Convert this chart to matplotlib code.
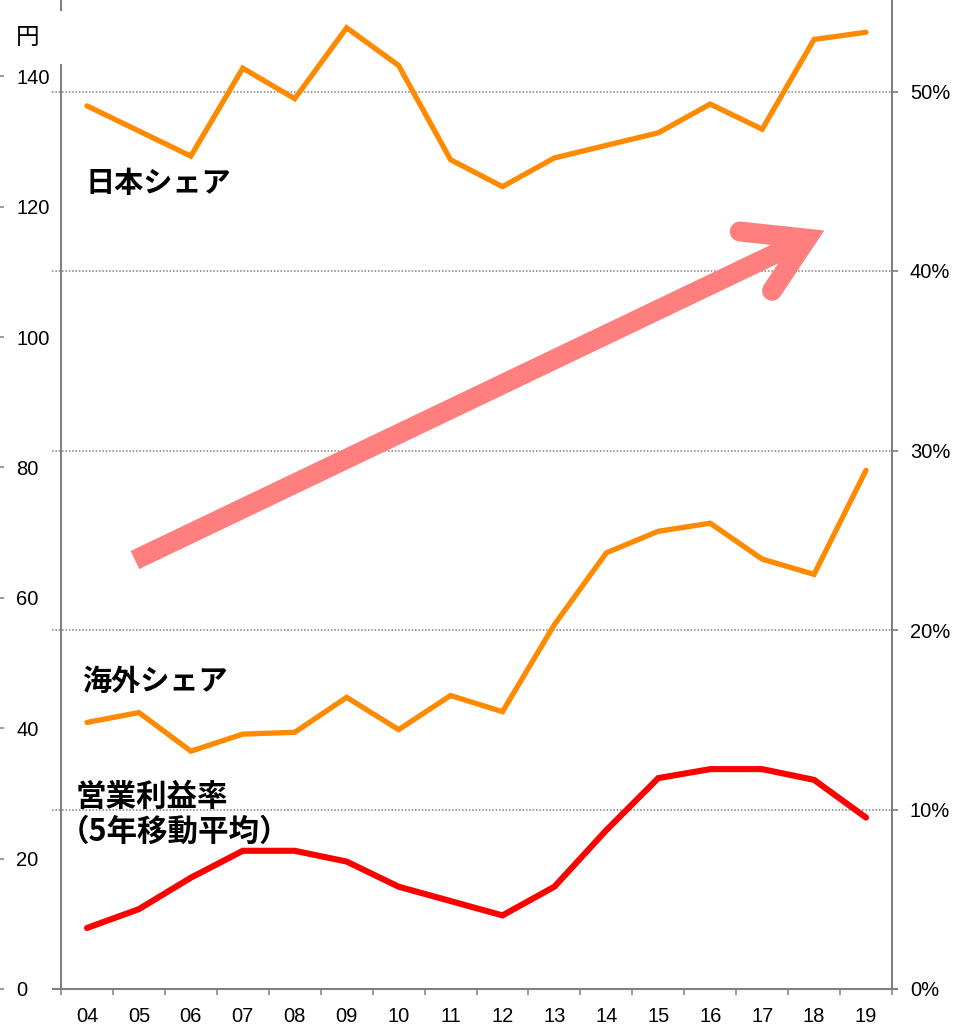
import numpy as np
import matplotlib.pyplot as plt

plt.rcParams['font.family'] = ['Liberation Sans', 'Noto Sans CJK JP']

# data (share / margin in %)
years = ['04', '05', '06', '07', '08', '09', '10', '11',
         '12', '13', '14', '15', '16', '17', '18', '19']
japan_share = [49.2, 47.8, 46.4, 51.3, 49.6, 53.55, 51.45, 46.2,
               44.7, 46.3, 47.0, 47.7, 49.3, 47.9, 52.9, 53.3]
overseas_share = [14.85, 15.4, 13.25, 14.2, 14.3, 16.25, 14.45, 16.35,
                  15.45, 20.3, 24.3, 25.5, 25.95, 23.95, 23.1, 28.9]
op_margin_5y = [3.4, 4.45, 6.2, 7.7, 7.7, 7.1, 5.7, 4.9,
                4.1, 5.7, 8.85, 11.75, 12.25, 12.25, 11.65, 9.55]
yen_ticks = [0, 20, 40, 60, 80, 100, 120, 140]
pct_ticks = [0, 10, 20, 30, 40, 50]

W, H = 961, 1030
GREY = '#808080'
ORANGE = '#FF8A00'
RED = '#FF0000'
PINK = '#FF7F7F'
PX_PCT = 17.95   # pixels per 1 % on the right axis
PX_YEN = 6.519   # pixels per 1 yen on the left axis

fig = plt.figure(figsize=(W / 100, H / 100), dpi=100)
ax = fig.add_axes([61 / W, (H - 989) / H, 831 / W, 988 / H])
x = np.arange(len(years))

ax.set_xlim(-0.5, len(years) - 0.5)
ax.set_ylim(0, 988 / PX_PCT)

# spines
ax.spines['top'].set_visible(False)
ax.spines['bottom'].set_visible(False)
for s in ['left', 'right']:
    ax.spines[s].set_color(GREY)
    ax.spines[s].set_linewidth(1.5)
ax.spines['left'].set_bounds(0, (989 - 65) / PX_PCT)
ax.plot([0, 0], [0.991, 1.0], color=GREY, lw=1.5, transform=ax.transAxes, clip_on=False)

# dotted grid + base line (stick out a bit on both sides)
ytr = ax.get_yaxis_transform()
for v in pct_ticks[1:]:
    ax.plot([-9 / 831, 1 + 6 / 831], [v, v], color=GREY, lw=1.1,
            ls=(0, (1, 1.2)), transform=ytr, clip_on=False, zorder=1)
ax.plot([-9 / 831, 1 + 6 / 831], [0, 0], color=GREY, lw=1.5,
        transform=ytr, clip_on=False, zorder=1, solid_capstyle='butt')

# right axis: percent
ax.yaxis.tick_right()
ax.set_yticks(pct_ticks, [f'{v}%' for v in pct_ticks])
ax.tick_params(axis='y', length=4.3, width=1.1, color=GREY, pad=8.6, labelsize=14.5)

# x axis
ax.set_xticks(x, years)
ax.set_xticks(np.arange(-0.5, len(years)), minor=True)
ax.tick_params(axis='x', which='major', length=0, pad=13, labelsize=14.5)
ax.tick_params(axis='x', which='minor', length=4.5, width=1.1, color=GREY)

# left axis labels (yen), ticks sit at the far left edge
axl = fig.add_axes([0, (H - 989) / H, 0.0005, 988 / H])
axl.set_ylim(0, 988 / PX_YEN)
axl.patch.set_visible(False)
for s in axl.spines.values():
    s.set_visible(False)
axl.set_xticks([])
axl.yaxis.tick_right()
axl.set_yticks(yen_ticks)
axl.tick_params(axis='y', length=2.9, width=1.1, color=GREY, pad=8.6, labelsize=14.5)

# lines
ax.plot(x, japan_share, color=ORANGE, lw=3.8, solid_joinstyle='miter',
        solid_capstyle='round', zorder=3)
ax.plot(x, overseas_share, color=ORANGE, lw=3.8, solid_joinstyle='miter',
        solid_capstyle='round', zorder=3)
ax.plot(x, op_margin_5y, color=RED, lw=4.4, solid_joinstyle='miter',
        solid_capstyle='round', zorder=3)

# trend arrow
ax.plot([0.924, 13.86], [23.9, 41.8], color=PINK, lw=14.4,
        solid_capstyle='butt', zorder=2)
ax.plot([12.57, 13.86, 13.19], [42.2, 41.8, 38.9], color=PINK, lw=14.4,
        solid_joinstyle='miter', solid_capstyle='round', zorder=2)

# labels
jp = ['Noto Sans CJK JP']
fig.text(28 / W, 1 - 37 / H, '円', ha='center', va='center', fontsize=17, family=jp)
fig.text(86 / W, 1 - 183 / H, '日本シェア', ha='left', va='center',
         fontsize=21, fontweight='bold', family=jp)
fig.text(82 / W, 1 - 681 / H, '海外シェア', ha='left', va='center',
         fontsize=21, fontweight='bold', family=jp)
fig.text(76 / W, 1 - 797 / H, '営業利益率', ha='left', va='center',
         fontsize=22, fontweight='bold', family=jp, zorder=5)
fig.text(59 / W, 1 - 832 / H, '（5年移動平均）', ha='left', va='center',
         fontsize=22, fontweight='bold', family=jp, zorder=5)

fig.savefig('out.png', dpi=100)
